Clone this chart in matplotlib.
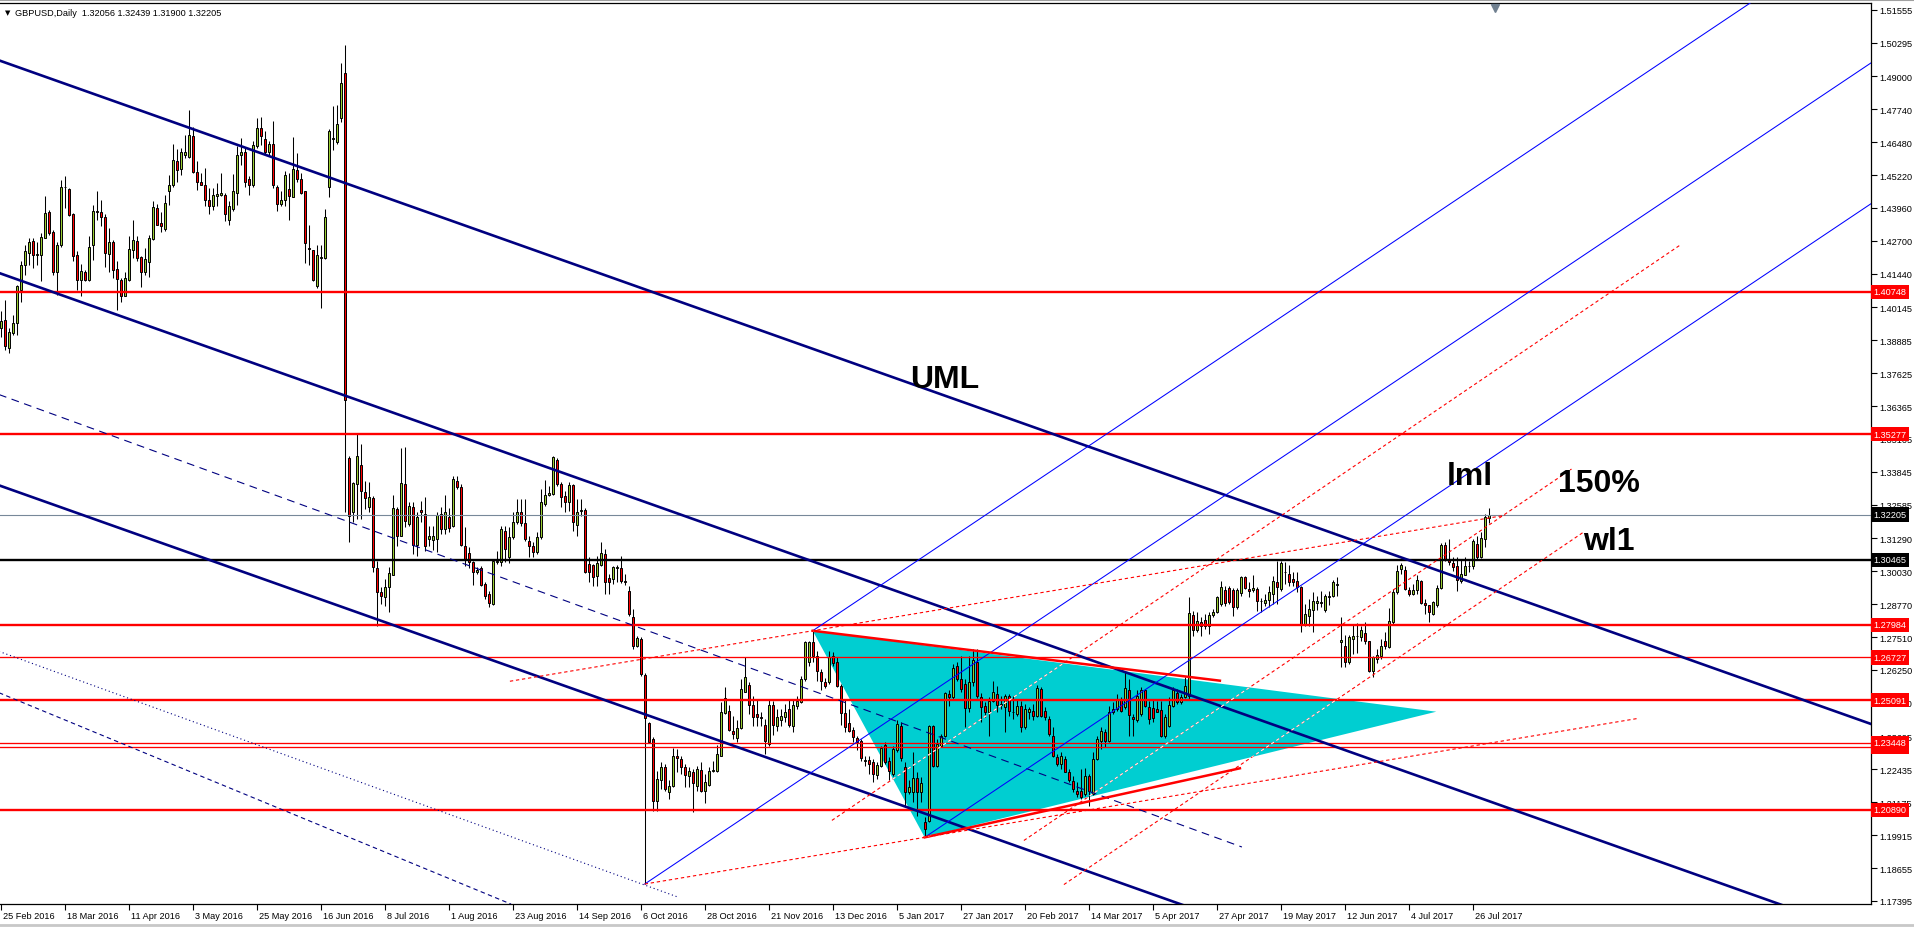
import numpy as np
import matplotlib.pyplot as plt
from matplotlib.patches import Polygon
from matplotlib.lines import Line2D
from matplotlib.transforms import blended_transform_factory, ScaledTranslation

# daily GBPUSD bars, index 0 = 25 Feb 2016
opens = np.array([
    1.3935, 1.3967, 1.3858, 1.3916, 1.3954, 1.4082, 1.4178, 1.4223, 1.4271, 1.4216,
    1.4216, 1.4280, 1.4380, 1.4303, 1.4152, 1.4252, 1.4476, 1.4468, 1.4372, 1.4214,
    1.4118, 1.4152, 1.4120, 1.4255, 1.4386, 1.4380, 1.4363, 1.4219, 1.4267, 1.4161,
    1.4118, 1.4059, 1.4118, 1.4235, 1.4271, 1.4206, 1.4152, 1.4188, 1.4278, 1.4395,
    1.4338, 1.4316, 1.4459, 1.4485, 1.4577, 1.4546, 1.4597, 1.4591, 1.4670, 1.4532,
    1.4495, 1.4485, 1.4425, 1.4405, 1.4440, 1.4446, 1.4444, 1.4350, 1.4393, 1.4455,
    1.4597, 1.4610, 1.4506, 1.4482, 1.4632, 1.4702, 1.4661, 1.4610, 1.4641, 1.4478,
    1.4412, 1.4425, 1.4469, 1.4437, 1.4542, 1.4506, 1.4459, 1.4244, 1.4233, 1.4095,
    1.4204, 1.4204, 1.4478, 1.4660, 1.4647, 1.4740, 1.4913, 1.3437, 1.3229, 1.3338,
    1.3412, 1.3308, 1.3248, 1.3283, 1.3014, 1.2922, 1.2903, 1.2942, 1.2990, 1.3242,
    1.3140, 1.3338, 1.3184, 1.3248, 1.3104, 1.3238, 1.3223, 1.3127, 1.3124, 1.3127,
    1.3223, 1.3165, 1.3210, 1.3175, 1.3348, 1.3325, 1.3101, 1.3072, 1.3037, 1.2999,
    1.3014, 1.2954, 1.2916, 1.2878, 1.3040, 1.3037, 1.3159, 1.3057, 1.3133, 1.3193,
    1.3229, 1.3188, 1.3118, 1.3101, 1.3076, 1.3133, 1.3261, 1.3296, 1.3299, 1.3431,
    1.3338, 1.3291, 1.3268, 1.3334, 1.3181, 1.3233, 1.3238, 1.3031, 1.3027, 1.2986,
    1.3029, 1.3069, 1.2976, 1.2974, 1.3016, 1.3014, 1.2965, 1.2926, 1.2829, 1.2718,
    1.2744, 1.2606, 1.2420, 1.2360, 1.2124, 1.2201, 1.2252, 1.2158, 1.2179, 1.2296,
    1.2284, 1.2252, 1.2220, 1.2232, 1.2181, 1.2241, 1.2162, 1.2185, 1.2237, 1.2236,
    1.2296, 1.2460, 1.2469, 1.2390, 1.2363, 1.2401, 1.2542, 1.2567, 1.2491, 1.2456,
    1.2443, 1.2414, 1.2339, 1.2491, 1.2411, 1.2431, 1.2443, 1.2475, 1.2411, 1.2486,
    1.2503, 1.2590, 1.2654, 1.2731, 1.2680, 1.2618, 1.2578, 1.2578, 1.2677, 1.2657,
    1.2562, 1.2460, 1.2420, 1.2395, 1.2363, 1.2354, 1.2277, 1.2280, 1.2271, 1.2222,
    1.2258, 1.2337, 1.2275, 1.2226, 1.2316, 1.2411, 1.2252, 1.2158, 1.2158, 1.2209,
    1.2156, 1.2041, 1.2047, 1.2411, 1.2258, 1.2335, 1.2373, 1.2533, 1.2520, 1.2639,
    1.2590, 1.2571, 1.2478, 1.2577, 1.2654, 1.2520, 1.2488, 1.2462, 1.2507, 1.2533,
    1.2492, 1.2482, 1.2526, 1.2462, 1.2456, 1.2488, 1.2405, 1.2462, 1.2469, 1.2450,
    1.2552, 1.2469, 1.2437, 1.2373, 1.2290, 1.2264, 1.2284, 1.2232, 1.2200, 1.2162,
    1.2162, 1.2149, 1.2217, 1.2149, 1.2284, 1.2354, 1.2388, 1.2354, 1.2462, 1.2475,
    1.2511, 1.2482, 1.2549, 1.2443, 1.2431, 1.2456, 1.2546, 1.2482, 1.2478, 1.2475,
    1.2473, 1.2373, 1.2411, 1.2488, 1.2537, 1.2501, 1.2520, 1.2526, 1.2836, 1.2776,
    1.2810, 1.2816, 1.2792, 1.2836, 1.2846, 1.2878, 1.2931, 1.2938, 1.2931, 1.2865,
    1.2919, 1.2980, 1.2935, 1.2933, 1.2935, 1.2891, 1.2882, 1.2894, 1.2916, 1.2963,
    1.2936, 1.3000, 1.2993, 1.2974, 1.2964, 1.2942, 1.2801, 1.2833, 1.2856, 1.2881,
    1.2881, 1.2853, 1.2904, 1.2907, 1.2952, 1.2731, 1.2718, 1.2654, 1.2744, 1.2753,
    1.2750, 1.2767, 1.2734, 1.2622, 1.2667, 1.2680, 1.2737, 1.2714, 1.2808, 1.2923,
    1.3012, 1.3009, 1.2933, 1.2916, 1.2932, 1.2964, 1.2882, 1.2872, 1.2840, 1.2872,
    1.2938, 1.3102, 1.3051, 1.3035, 1.3025, 1.2964, 1.2989, 1.3022, 1.3022, 1.3108,
    1.3057, 1.3127, 1.32056])

highs = np.array([
    1.3999, 1.4044, 1.3935, 1.3986, 1.4101, 1.4191, 1.4255, 1.4280, 1.4280, 1.4267,
    1.4299, 1.4442, 1.4389, 1.4312, 1.4267, 1.4504, 1.4519, 1.4472, 1.4376, 1.4229,
    1.4180, 1.4159, 1.4287, 1.4408, 1.4459, 1.4427, 1.4372, 1.4319, 1.4274, 1.4191,
    1.4127, 1.4152, 1.4287, 1.4348, 1.4287, 1.4210, 1.4242, 1.4293, 1.4421, 1.4412,
    1.4382, 1.4446, 1.4523, 1.4641, 1.4621, 1.4625, 1.4676, 1.4772, 1.4708, 1.4574,
    1.4529, 1.4549, 1.4472, 1.4474, 1.4491, 1.4529, 1.4453, 1.4421, 1.4526, 1.4632,
    1.4664, 1.4625, 1.4517, 1.4651, 1.4740, 1.4743, 1.4689, 1.4651, 1.4730, 1.4485,
    1.4459, 1.4536, 1.4529, 1.4666, 1.4606, 1.4529, 1.4462, 1.4329, 1.4235, 1.4255,
    1.4255, 1.4393, 1.4699, 1.4785, 1.4791, 1.4951, 1.5021, 1.3445, 1.3344, 1.3530,
    1.3491, 1.3351, 1.3344, 1.3290, 1.3044, 1.2942, 1.2974, 1.3018, 1.3296, 1.3248,
    1.3475, 1.3478, 1.3267, 1.3267, 1.3229, 1.3274, 1.3287, 1.3178, 1.3178, 1.3232,
    1.3248, 1.3296, 1.3245, 1.3370, 1.3367, 1.3338, 1.3172, 1.3095, 1.3044, 1.3018,
    1.3025, 1.2961, 1.2929, 1.3050, 1.3082, 1.3176, 1.3176, 1.3172, 1.3229, 1.3280,
    1.3280, 1.3280, 1.3140, 1.3114, 1.3152, 1.3319, 1.3353, 1.3331, 1.3444, 1.3436,
    1.3344, 1.3312, 1.3344, 1.3338, 1.3280, 1.3280, 1.3245, 1.3057, 1.3031, 1.3063,
    1.3114, 1.3089, 1.2993, 1.3025, 1.3027, 1.3060, 1.2993, 1.2948, 1.2859, 1.2756,
    1.2750, 1.2613, 1.2424, 1.2367, 1.2239, 1.2271, 1.2264, 1.2201, 1.2324, 1.2322,
    1.2296, 1.2264, 1.2252, 1.2245, 1.2258, 1.2271, 1.2226, 1.2252, 1.2277, 1.2337,
    1.2501, 1.2558, 1.2491, 1.2450, 1.2431, 1.2590, 1.2673, 1.2578, 1.2526, 1.2514,
    1.2462, 1.2437, 1.2514, 1.2507, 1.2475, 1.2475, 1.2494, 1.2514, 1.2514, 1.2526,
    1.2600, 1.2737, 1.2737, 1.2775, 1.2699, 1.2629, 1.2593, 1.2699, 1.2693, 1.2673,
    1.2571, 1.2514, 1.2475, 1.2405, 1.2373, 1.2360, 1.2296, 1.2296, 1.2284, 1.2271,
    1.2335, 1.2347, 1.2290, 1.2335, 1.2431, 1.2424, 1.2271, 1.2201, 1.2309, 1.2232,
    1.2213, 1.2060, 1.2414, 1.2414, 1.2360, 1.2379, 1.2539, 1.2546, 1.2648, 1.2654,
    1.2680, 1.2590, 1.2680, 1.2705, 1.2705, 1.2537, 1.2501, 1.2520, 1.2584, 1.2565,
    1.2526, 1.2533, 1.2533, 1.2526, 1.2514, 1.2507, 1.2494, 1.2482, 1.2494, 1.2567,
    1.2558, 1.2482, 1.2450, 1.2405, 1.2303, 1.2309, 1.2296, 1.2245, 1.2217, 1.2194,
    1.2245, 1.2248, 1.2226, 1.2309, 1.2373, 1.2405, 1.2399, 1.2488, 1.2501, 1.2533,
    1.2520, 1.2616, 1.2590, 1.2456, 1.2546, 1.2558, 1.2552, 1.2507, 1.2514, 1.2507,
    1.2507, 1.2456, 1.2520, 1.2558, 1.2552, 1.2533, 1.2597, 1.2903, 1.2852, 1.2846,
    1.2827, 1.2839, 1.2846, 1.2859, 1.2910, 1.2967, 1.2948, 1.2948, 1.2938, 1.2938,
    1.2986, 1.2986, 1.2961, 1.2989, 1.2942, 1.2900, 1.2916, 1.2948, 1.2986, 1.3044,
    1.3044, 1.3038, 1.3028, 1.3000, 1.3000, 1.2948, 1.2878, 1.2897, 1.2923, 1.2910,
    1.2929, 1.2916, 1.2929, 1.2968, 1.2980, 1.2827, 1.2759, 1.2757, 1.2801, 1.2805,
    1.2795, 1.2808, 1.2737, 1.2680, 1.2706, 1.2744, 1.2769, 1.2863, 1.2936, 1.3028,
    1.3035, 1.3025, 1.2942, 1.2955, 1.2987, 1.2971, 1.2897, 1.2874, 1.2891, 1.2951,
    1.3112, 1.3114, 1.3127, 1.3057, 1.3057, 1.3051, 1.3057, 1.3044, 1.3127, 1.3140,
    1.3155, 1.3223, 1.32439])

lows = np.array([
    1.3903, 1.3852, 1.3839, 1.3910, 1.3910, 1.4037, 1.4140, 1.4178, 1.4165, 1.4178,
    1.4114, 1.4280, 1.4293, 1.4140, 1.4063, 1.4248, 1.4395, 1.4366, 1.4191, 1.4082,
    1.4060, 1.4117, 1.4114, 1.4197, 1.4350, 1.4325, 1.4168, 1.4152, 1.4127, 1.4005,
    1.4037, 1.4057, 1.4117, 1.4204, 1.4193, 1.4091, 1.4140, 1.4133, 1.4274, 1.4329,
    1.4302, 1.4308, 1.4408, 1.4478, 1.4497, 1.4523, 1.4587, 1.4587, 1.4529, 1.4466,
    1.4482, 1.4402, 1.4374, 1.4389, 1.4402, 1.4440, 1.4347, 1.4331, 1.4385, 1.4408,
    1.4561, 1.4478, 1.4444, 1.4477, 1.4625, 1.4638, 1.4600, 1.4600, 1.4472, 1.4385,
    1.4402, 1.4402, 1.4350, 1.4436, 1.4497, 1.4449, 1.4184, 1.4178, 1.4114, 1.4089,
    1.4014, 1.4201, 1.4436, 1.4619, 1.4641, 1.4727, 1.3229, 1.3114, 1.3191, 1.3204,
    1.3204, 1.3242, 1.3232, 1.2999, 1.2795, 1.2878, 1.2871, 1.2848, 1.2989, 1.3101,
    1.3140, 1.3172, 1.3178, 1.3069, 1.3063, 1.3191, 1.3082, 1.3101, 1.3086, 1.3076,
    1.3146, 1.3146, 1.3152, 1.3172, 1.3319, 1.3101, 1.3025, 1.3016, 1.2951, 1.2993,
    1.2948, 1.2897, 1.2865, 1.2874, 1.3031, 1.3025, 1.3037, 1.3035, 1.3127, 1.3184,
    1.3175, 1.3121, 1.3057, 1.3057, 1.3069, 1.3127, 1.3252, 1.3290, 1.3296, 1.3331,
    1.3248, 1.3232, 1.3236, 1.3159, 1.3140, 1.3216, 1.2997, 1.2963, 1.2945, 1.2948,
    1.3025, 1.2916, 1.2916, 1.2954, 1.2961, 1.2958, 1.2951, 1.2833, 1.2705, 1.2712,
    1.2600, 1.1804, 1.2345, 1.2085, 1.2085, 1.2169, 1.2162, 1.2130, 1.2175, 1.2232,
    1.2226, 1.2175, 1.2175, 1.2079, 1.2162, 1.2156, 1.2115, 1.2181, 1.2232, 1.2232,
    1.2294, 1.2456, 1.2392, 1.2360, 1.2350, 1.2399, 1.2539, 1.2456, 1.2411, 1.2411,
    1.2411, 1.2303, 1.2335, 1.2376, 1.2392, 1.2411, 1.2427, 1.2405, 1.2386, 1.2475,
    1.2498, 1.2584, 1.2641, 1.2654, 1.2584, 1.2546, 1.2554, 1.2571, 1.2641, 1.2558,
    1.2414, 1.2386, 1.2386, 1.2350, 1.2316, 1.2277, 1.2258, 1.2226, 1.2197, 1.2207,
    1.2252, 1.2264, 1.2201, 1.2220, 1.2309, 1.2277, 1.2105, 1.2149, 1.2117, 1.2066,
    1.2117, 1.1983, 1.2041, 1.2252, 1.2252, 1.2328, 1.2367, 1.2488, 1.2514, 1.2584,
    1.2539, 1.2405, 1.2462, 1.2565, 1.2516, 1.2424, 1.2443, 1.2373, 1.2501, 1.2462,
    1.2475, 1.2386, 1.2450, 1.2437, 1.2450, 1.2386, 1.2399, 1.2437, 1.2431, 1.2443,
    1.2443, 1.2431, 1.2373, 1.2290, 1.2258, 1.2245, 1.2232, 1.2194, 1.2156, 1.2137,
    1.2130, 1.2143, 1.2105, 1.2146, 1.2281, 1.2322, 1.2328, 1.2347, 1.2456, 1.2469,
    1.2462, 1.2475, 1.2373, 1.2373, 1.2424, 1.2450, 1.2482, 1.2418, 1.2424, 1.2462,
    1.2367, 1.2363, 1.2405, 1.2482, 1.2494, 1.2494, 1.2516, 1.2514, 1.2756, 1.2769,
    1.2756, 1.2782, 1.2763, 1.2827, 1.2843, 1.2871, 1.2871, 1.2878, 1.2831, 1.2859,
    1.2910, 1.2935, 1.2903, 1.2923, 1.2852, 1.2846, 1.2871, 1.2865, 1.2878, 1.2878,
    1.2929, 1.2955, 1.2948, 1.2948, 1.2923, 1.2772, 1.2795, 1.2795, 1.2769, 1.2853,
    1.2865, 1.2846, 1.2872, 1.2904, 1.2910, 1.2635, 1.2635, 1.2648, 1.2686, 1.2690,
    1.2737, 1.2725, 1.2616, 1.2597, 1.2652, 1.2667, 1.2706, 1.2708, 1.2801, 1.2916,
    1.2993, 1.2933, 1.2910, 1.2913, 1.2916, 1.2878, 1.2840, 1.2810, 1.2836, 1.2865,
    1.2936, 1.3044, 1.3028, 1.3006, 1.2929, 1.2959, 1.2987, 1.3002, 1.3012, 1.3051,
    1.3053, 1.3095, 1.31900])

closes = np.array([
    1.3963, 1.3865, 1.3922, 1.3954, 1.4095, 1.4178, 1.4229, 1.4265, 1.4216, 1.4219,
    1.4283, 1.4376, 1.4299, 1.4152, 1.4252, 1.4476, 1.4478, 1.4370, 1.4212, 1.4118,
    1.4156, 1.4120, 1.4248, 1.4386, 1.4379, 1.4363, 1.4223, 1.4265, 1.4159, 1.4124,
    1.4059, 1.4129, 1.4239, 1.4274, 1.4204, 1.4152, 1.4201, 1.4280, 1.4398, 1.4331,
    1.4325, 1.4414, 1.4485, 1.4581, 1.4542, 1.4610, 1.4612, 1.4674, 1.4533, 1.4495,
    1.4485, 1.4427, 1.4405, 1.4444, 1.4450, 1.4453, 1.4372, 1.4402, 1.4462, 1.4597,
    1.4609, 1.4494, 1.4485, 1.4636, 1.4702, 1.4670, 1.4610, 1.4641, 1.4482, 1.4412,
    1.4425, 1.4523, 1.4440, 1.4545, 1.4506, 1.4455, 1.4261, 1.4239, 1.4118, 1.4216,
    1.4207, 1.4363, 1.4689, 1.4664, 1.4717, 1.4874, 1.3660, 1.3216, 1.3340, 1.3444,
    1.3310, 1.3283, 1.3287, 1.3021, 1.2925, 1.2907, 1.2942, 1.2995, 1.3245, 1.3140,
    1.3340, 1.3197, 1.3252, 1.3104, 1.3210, 1.3229, 1.3099, 1.3140, 1.3137, 1.3219,
    1.3165, 1.3229, 1.3168, 1.3357, 1.3325, 1.3104, 1.3050, 1.3037, 1.2999, 1.3008,
    1.2952, 1.2907, 1.2880, 1.3044, 1.3043, 1.3165, 1.3089, 1.3133, 1.3193, 1.3229,
    1.3188, 1.3127, 1.3101, 1.3076, 1.3133, 1.3267, 1.3296, 1.3303, 1.3440, 1.3338,
    1.3287, 1.3268, 1.3335, 1.3191, 1.3232, 1.3238, 1.2999, 1.2999, 1.2983, 1.3035,
    1.3072, 1.2961, 1.2961, 1.3018, 1.3018, 1.2965, 1.2961, 1.2839, 1.2718, 1.2746,
    1.2609, 1.2439, 1.2350, 1.2124, 1.2207, 1.2252, 1.2169, 1.2179, 1.2294, 1.2286,
    1.2252, 1.2222, 1.2236, 1.2190, 1.2245, 1.2160, 1.2194, 1.2239, 1.2243, 1.2303,
    1.2462, 1.2516, 1.2396, 1.2379, 1.2401, 1.2552, 1.2597, 1.2491, 1.2446, 1.2443,
    1.2439, 1.2354, 1.2491, 1.2414, 1.2443, 1.2447, 1.2465, 1.2414, 1.2491, 1.2507,
    1.2590, 1.2731, 1.2731, 1.2680, 1.2622, 1.2584, 1.2562, 1.2673, 1.2652, 1.2562,
    1.2460, 1.2405, 1.2392, 1.2367, 1.2350, 1.2286, 1.2280, 1.2264, 1.2224, 1.2262,
    1.2324, 1.2271, 1.2236, 1.2322, 1.2418, 1.2286, 1.2158, 1.2175, 1.2211, 1.2158,
    1.2192, 1.2015, 1.2411, 1.2258, 1.2339, 1.2373, 1.2535, 1.2520, 1.2632, 1.2590,
    1.2552, 1.2478, 1.2577, 1.2661, 1.2524, 1.2482, 1.2465, 1.2507, 1.2542, 1.2492,
    1.2494, 1.2526, 1.2469, 1.2465, 1.2488, 1.2405, 1.2475, 1.2475, 1.2450, 1.2554,
    1.2450, 1.2443, 1.2379, 1.2296, 1.2264, 1.2296, 1.2235, 1.2204, 1.2168, 1.2149,
    1.2137, 1.2217, 1.2162, 1.2284, 1.2360, 1.2392, 1.2354, 1.2465, 1.2475, 1.2514,
    1.2469, 1.2554, 1.2452, 1.2437, 1.2526, 1.2549, 1.2488, 1.2437, 1.2439, 1.2465,
    1.2373, 1.2443, 1.2492, 1.2546, 1.2501, 1.2520, 1.2565, 1.2843, 1.2776, 1.2814,
    1.2792, 1.2792, 1.2836, 1.2848, 1.2903, 1.2942, 1.2882, 1.2884, 1.2865, 1.2933,
    1.2980, 1.2938, 1.2929, 1.2938, 1.2891, 1.2888, 1.2894, 1.2923, 1.2967, 1.2942,
    1.3035, 1.3002, 1.2961, 1.2961, 1.2942, 1.2801, 1.2840, 1.2859, 1.2891, 1.2891,
    1.2887, 1.2907, 1.2910, 1.2961, 1.2955, 1.2740, 1.2654, 1.2750, 1.2753, 1.2754,
    1.2776, 1.2734, 1.2622, 1.2674, 1.2683, 1.2718, 1.2718, 1.2812, 1.2923, 1.3006,
    1.3028, 1.2936, 1.2916, 1.2933, 1.2971, 1.2882, 1.2872, 1.2846, 1.2887, 1.2938,
    1.3104, 1.3051, 1.3038, 1.3019, 1.2971, 1.2993, 1.3025, 1.3025, 1.3121, 1.3057,
    1.3131, 1.3210, 1.32205])

# date labels every 16 bars
date_labels = ['25 Feb 2016', '18 Mar 2016', '11 Apr 2016', '3 May 2016', '25 May 2016',
               '16 Jun 2016', '8 Jul 2016', '1 Aug 2016', '23 Aug 2016', '14 Sep 2016',
               '6 Oct 2016', '28 Oct 2016', '21 Nov 2016', '13 Dec 2016', '5 Jan 2017',
               '27 Jan 2017', '20 Feb 2017', '14 Mar 2017', '5 Apr 2017', '27 Apr 2017',
               '19 May 2017', '12 Jun 2017', '4 Jul 2017', '26 Jul 2017']
label_step = 16

price_ticks = [1.51555, 1.50295, 1.49000, 1.47740, 1.46480, 1.45220, 1.43960, 1.42700,
               1.41440, 1.40145, 1.38885, 1.37625, 1.36365, 1.35105, 1.33845, 1.32585,
               1.31290, 1.30030, 1.28770, 1.27510, 1.26250, 1.24990, 1.23695, 1.22435,
               1.21175, 1.19915, 1.18655, 1.17395]

# horizontal levels
red_thick = [1.40748, 1.35277, 1.27984, 1.25091, 1.20890]
red_thin = [1.26727, 1.23310, 1.23448]
black_level = 1.30465

# navy median-line channel: price at bar 0, slope per bar
navy_fork_start = [1.49594, 1.41444, 1.33302]
navy_fork_slope = -0.0005436

# older navy lines: (bar, price) end points
navy_dashed = [(-10, 1.3734), (310.3, 1.1946)]
navy_dotted = [(-10, 1.2749), (169.5, 1.1753)]
navy_longdash = [(-10, 1.2598), (127.6, 1.1727)]

# red parallel dashed lines (start, end)
red_steep = [[(207.8, 1.2048), (419.8, 1.4253)],
             [(255.8, 1.1971), (392.7, 1.3395)],
             [(265.8, 1.1802), (395.7, 1.3153)]]
shallow_end = 409
upper_shallow = (127.3, 376.1)

# triangle tip and red edge ends
tri_tip = (358.9, 1.24647)
edge_upper_end = (304.8, 1.25836)
edge_lower_end = (309.8, 1.22477)

# pitchfork pivots: flash crash low, Dec high, Jan low
p1_bar, p2_bar, p3_bar = 161, 203, 231

notes = [('UML', 227.3, 1.3710), ('lml', 361.6, 1.3338),
         ('150%', 389.3, 1.3312), ('wl1', 395.6, 1.3088)]

plt.rcParams['font.family'] = ['Liberation Sans', 'DejaVu Sans']

W, H = 1915, 929
fig = plt.figure(figsize=(W / 100, H / 100), dpi=100)
fig.patch.set_facecolor('white')
ax = fig.add_axes([0, 24 / H, 1871 / W, 901 / H])
ax.set_xlim(-0.175, -0.175 + 1871 / 4)
ax.set_ylim(1.17275, 1.51816)

n = len(closes)
x = np.arange(n)

# cyan triangle
p1 = (p1_bar, lows[p1_bar])
p2 = (p2_bar, highs[p2_bar])
p3 = (p3_bar, lows[p3_bar])
tri = Polygon([p2, p3, tri_tip], closed=True, fc='#00ced1', ec='none', zorder=1)
ax.add_patch(tri)

# candles
bull = closes >= opens
ax.vlines(x, lows, highs, color='black', lw=0.75, zorder=3)
bottom = np.minimum(opens, closes)
height = np.maximum(np.abs(closes - opens), 0.00008)
ax.bar(x[bull], height[bull], bottom=bottom[bull], width=0.5, color='#9acd32',
       edgecolor='black', linewidth=0.7, zorder=4)
ax.bar(x[~bull], height[~bull], bottom=bottom[~bull], width=0.5, color='#ff0000',
       edgecolor='black', linewidth=0.7, zorder=4)

# horizontal levels
for lv in red_thick:
    ax.axhline(lv, color='#ff0000', lw=1.7, zorder=5)
for lv in red_thin:
    ax.axhline(lv, color='#ff0000', lw=0.95, zorder=5)
ax.axhline(black_level, color='black', lw=1.7, zorder=5)
ax.axhline(closes[-1], color='#778899', lw=0.8, zorder=5)

# navy channel
far = 480
for p0 in navy_fork_start:
    ax.plot([-10, far], [p0 - 10 * navy_fork_slope, p0 + far * navy_fork_slope],
            color='#000080', lw=1.9, zorder=6)

def seg(pts, **kw):
    xs, ys = zip(*pts)
    return ax.plot(xs, ys, **kw)[0]

seg(navy_dashed, color='#000080', lw=0.8, ls=(0, (7, 5)), zorder=6)
seg(navy_dotted, color='#000080', lw=0.8, ls=(0, (1, 2.5)), zorder=6)
seg(navy_longdash, color='#000080', lw=0.8, ls=(0, (4, 3)), zorder=6)

# blue pitchfork
mid = ((p2[0] + p3[0]) / 2, (p2[1] + p3[1]) / 2)
bslope = (mid[1] - p1[1]) / (mid[0] - p1[0])
for s in (p1, p2, p3):
    ax.plot([s[0], far], [s[1], s[1] + bslope * (far - s[0])], color='#0000ff', lw=0.75, zorder=6)

# red dashed lines (white where they cross the cyan triangle)
rslope = (p3[1] - p1[1]) / (p3[0] - p1[0])
shallow = [[p1, (shallow_end, p1[1] + rslope * (shallow_end - p1[0]))],
           [(b, p2[1] + rslope * (b - p2[0])) for b in upper_shallow]]
red_dash = (0, (3, 2.5))
for pts in red_steep + shallow:
    seg(pts, color='#ff0000', lw=0.8, ls=red_dash, zorder=6)
    w = seg(pts, color='white', lw=0.8, ls=red_dash, zorder=6.1)
    w.set_clip_path(tri)

# triangle red edges
seg([p2, edge_upper_end], color='#ff0000', lw=1.8, zorder=6)
seg([p3, edge_lower_end], color='#ff0000', lw=1.8, zorder=6)

# big annotations
for txt, bx, py in notes:
    ax.text(bx, py, txt, fontsize=23, fontweight='bold', color='black',
            ha='left', va='baseline', zorder=8)

# axes styling
for side in ('left',):
    ax.spines[side].set_visible(False)
for side in ('right', 'top', 'bottom'):
    ax.spines[side].set_linewidth(0.9)
    ax.spines[side].set_color('black')

ax.yaxis.tick_right()
ax.set_yticks(price_ticks)
ax.set_yticklabels([f'{v:.5f}' for v in price_ticks])
ax.tick_params(axis='y', direction='out', length=4, width=0.8, pad=2, labelsize=6.6,
               right=True, left=False, labelright=True, labelleft=False)

ax.set_xticks(np.arange(len(date_labels)) * label_step)
ax.set_xticklabels(date_labels)
ax.tick_params(axis='x', direction='out', length=4, width=0.8, pad=1, labelsize=6.6)
shift = ScaledTranslation(2 / 100, 0, fig.dpi_scale_trans)
for lab in ax.get_xticklabels():
    lab.set_horizontalalignment('left')
    lab.set_transform(lab.get_transform() + shift)

# price boxes on the right scale
trans = blended_transform_factory(ax.transAxes, ax.transData)
box_x = 1 + 2.5 / 1871
def price_box(v, fc, z):
    ax.text(box_x, v, f'{v:.5f}', transform=trans, fontsize=6.6, color='white',
            ha='left', va='center', clip_on=False, zorder=z,
            bbox=dict(boxstyle='square,pad=0.28', fc=fc, ec='none'))

for lv in sorted(red_thin + red_thick):
    price_box(lv, '#ff0000', 10 + lv)
price_box(black_level, 'black', 12)
price_box(closes[-1], 'black', 12)

# header text and chart-shift marker
fig.text(5 / W, 1 - 13 / H, '\u25bc', fontsize=5, family='DejaVu Sans', va='center')
fig.text(15 / W, 1 - 13 / H,
         f'GBPUSD,Daily  {opens[-1]:.5f} {highs[-1]:.5f} {lows[-1]:.5f} {closes[-1]:.5f}',
         fontsize=6.6, va='center')
ax.plot([n + 0.5], [0.994], marker='v', ms=6, color='#708090',
        transform=blended_transform_factory(ax.transData, ax.transAxes), clip_on=False, zorder=9)

fig.add_artist(Line2D([0, 1], [1 - 1 / H, 1 - 1 / H], transform=fig.transFigure,
                      color='#a0a0a0', lw=1.5))
fig.add_artist(Line2D([0, 1], [3 / H, 3 / H], transform=fig.transFigure,
                      color='#c8c8c8', lw=2))

fig.savefig('out.png', dpi=100)
